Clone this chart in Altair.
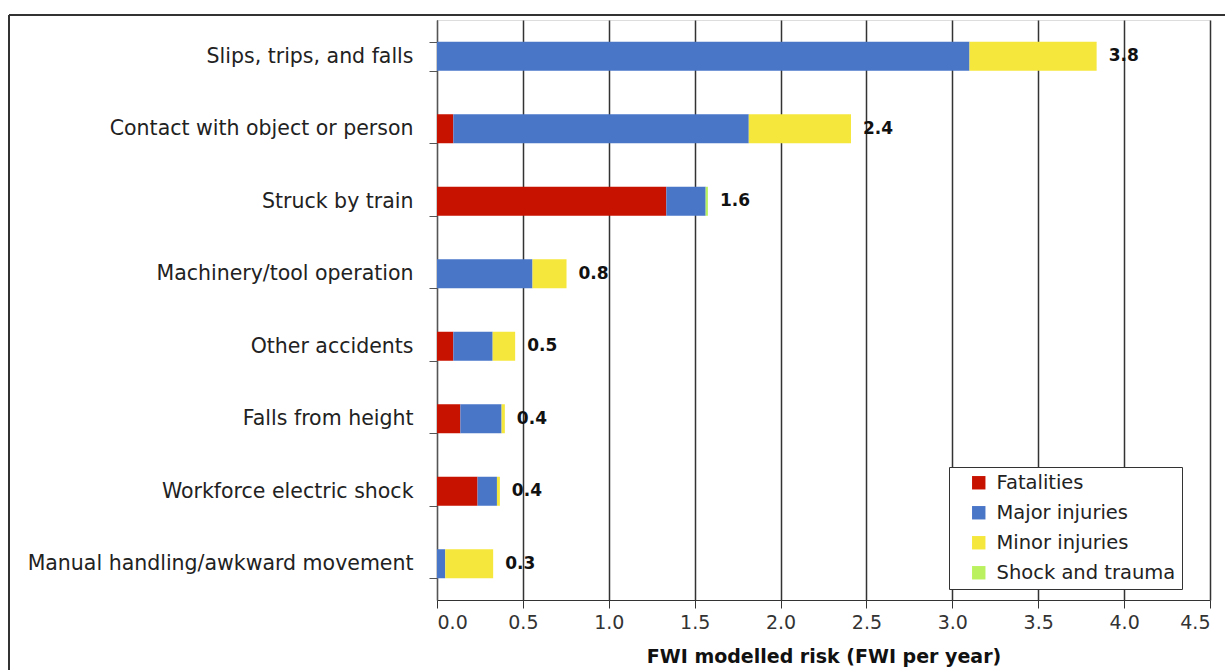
import altair as alt
import pandas as pd

# Hazard categories (top to bottom) and modelled risk per harm type, FWI per year
categories = [
    "Slips, trips, and falls",
    "Contact with object or person",
    "Struck by train",
    "Machinery/tool operation",
    "Other accidents",
    "Falls from height",
    "Workforce electric shock",
    "Manual handling/awkward movement",
]
fatalities = [0.0, 0.095, 1.335, 0.0, 0.095, 0.136, 0.236, 0.0]
major_injuries = [3.10, 1.72, 0.229, 0.556, 0.229, 0.240, 0.113, 0.048]
minor_injuries = [0.74, 0.595, 0.0, 0.198, 0.131, 0.019, 0.017, 0.279]
shock_trauma = [0.0, 0.0, 0.013, 0.0, 0.0, 0.0, 0.0, 0.0]

harm_types = ["Fatalities", "Major injuries", "Minor injuries", "Shock and trauma"]
harm_colors = ["#C81200", "#4A76C8", "#F6E73C", "#B9F25E"]

series = [fatalities, major_injuries, minor_injuries, shock_trauma]
rows = []
for h_idx, (harm, vals) in enumerate(zip(harm_types, series)):
    for cat, v in zip(categories, vals):
        rows.append({"category": cat, "harm": harm, "order": h_idx, "risk": v})
df = pd.DataFrame(rows)

totals = pd.DataFrame({
    "category": categories,
    "total": [sum(s[i] for s in series) for i in range(len(categories))],
})
totals["label"] = totals["total"].map(lambda t: f"{t:.1f}")

FONT = "DejaVu Sans"
W, H = 773, 580

y_enc = alt.Y(
    "category:N",
    sort=categories,
    scale=alt.Scale(paddingInner=0.6, paddingOuter=0.3),
    axis=alt.Axis(
        title=None,
        tickBand="extent",
        tickSize=8,
        tickColor="#555555",
        domainColor="#555555",
        labelPadding=16,
        labelFontSize=20.5,
        labelFont=FONT,
        labelColor="#222222",
        labelLimit=450,
        grid=False,
    ),
)

bars = alt.Chart(df).mark_bar().encode(
    x=alt.X(
        "risk:Q",
        stack="zero",
        scale=alt.Scale(domain=[0, 4.5], nice=False),
        axis=alt.Axis(
            title="FWI modelled risk (FWI per year)",
            values=[0, 0.5, 1, 1.5, 2, 2.5, 3, 3.5, 4, 4.5],
            format=".1f",
            tickSize=8,
            tickColor="#333333",
            domainColor="#333333",
            labelFontSize=19,
            labelFont=FONT,
            labelColor="#333333",
            labelPadding=5,
            titleFont=FONT,
            titleFontSize=19,
            titleFontWeight="bold",
            titleColor="#111111",
            titlePadding=15,
            grid=True,
            gridColor="#333333",
            gridWidth=1.5,
        ),
    ),
    y=y_enc,
    color=alt.Color(
        "harm:N",
        sort=harm_types,
        scale=alt.Scale(domain=harm_types, range=harm_colors),
        legend=alt.Legend(
            title=None,
            orient="none",
            legendX=512,
            legendY=447,
            symbolType="square",
            symbolSize=180,
            symbolStrokeWidth=0,
            symbolOffset=14,
            labelOffset=8,
            labelFontSize=19.5,
            labelFont=FONT,
            labelColor="#222222",
            labelLimit=300,
            rowPadding=9,
            padding=6,
            strokeColor="#333333",
            fillColor="white",
        ),
    ),
    order=alt.Order("order:Q"),
)

labels = alt.Chart(totals).mark_text(
    align="left", baseline="middle", dx=12, fontSize=17,
    fontWeight="bold", font=FONT, color="#111111",
).encode(
    x="total:Q",
    y=alt.Y("category:N", sort=categories),
    text="label:N",
)

# Outer frame lines around the figure
frame_top = alt.Chart(totals).mark_rule(color="#333333", strokeWidth=2).encode(
    x=alt.value(-428), x2=alt.value(800), y=alt.value(-5)
)
frame_left = alt.Chart(totals).mark_rule(color="#333333", strokeWidth=2).encode(
    x=alt.value(-428), y=alt.value(-5), y2=alt.value(700)
)

chart = alt.layer(bars, labels, frame_top, frame_left).properties(
    width=W,
    height=H,
    autosize=alt.AutoSizeParams(type="none"),
    padding={"left": 437, "top": 20, "right": 15, "bottom": 70},
).configure_view(
    stroke="#777777", strokeWidth=1.5
).configure(background="white")

chart.save("out.html", embed_options={"renderer": "svg", "actions": False})
